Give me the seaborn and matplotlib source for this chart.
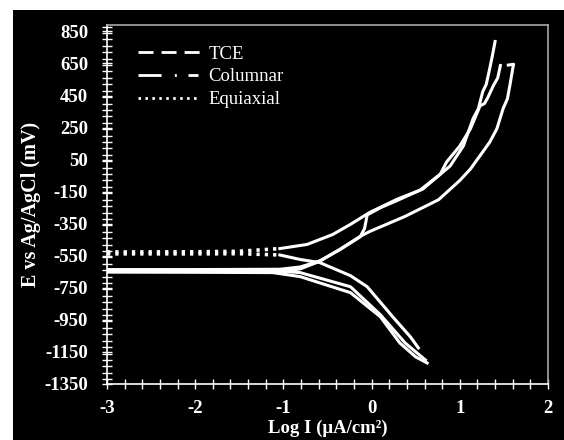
import matplotlib
matplotlib.use("Agg")
import matplotlib.pyplot as plt
import seaborn as sns
import pandas as pd
from matplotlib.lines import Line2D
from matplotlib.patches import Rectangle
from matplotlib.ticker import MultipleLocator

# ---------------- data ----------------
series = ["TCE", "Columnar", "Equiaxial"]

# cathodic branches (log I, E)
tce_cath_logi = [-3.0, -2.0, -1.12, -0.81, -0.24, 0.10, 0.38, 0.61]
tce_cath_e = [-640, -641, -643, -655, -743, -918, -1094, -1200]
col_cath_logi = [-3.0, -2.0, -1.12, -0.81, -0.24, 0.10, 0.32, 0.50, 0.63]
col_cath_e = [-652, -653, -655, -680, -780, -931, -1094, -1181, -1219]
equ_cath_logi = [-3.0, -2.0, -1.5, -1.04, -0.81, -0.59, -0.24, -0.05, 0.24, 0.44, 0.53]
equ_cath_e = [-538, -538, -537, -545, -573, -592, -674, -743, -931, -1056, -1125]

# anodic branches (log I, E)
tce_anod_logi = [-3.0, -2.0, -1.04, -0.81, -0.59, -0.36, -0.13, -0.08, -0.05, 0.10, 0.29,
                 0.55, 0.78, 0.85, 1.00, 1.12, 1.23, 1.28, 1.32, 1.38, 1.43, 1.46]
tce_anod_e = [-636, -636, -634, -620, -582, -512, -432, -380, -295, -250, -205,
              -140, -40, 35, 135, 242, 386, 400, 440, 511, 560, 637]
col_anod_logi = [-3.0, -2.0, -1.04, -0.81, -0.59, -0.36, -0.13, -0.02, 0.38, 0.76, 1.00,
                 1.12, 1.26, 1.34, 1.42, 1.49, 1.54, 1.57, 1.60, 1.61, 1.55]
col_anod_e = [-647, -648, -648, -632, -585, -510, -429, -398, -304, -200, -80,
              -9, 98, 160, 242, 367, 430, 520, 618, 645, 640]
equ_anod_logi = [-3.0, -2.0, -1.5, -1.04, -0.73, -0.44, -0.24, -0.02, 0.29, 0.58,
                 0.89, 1.04, 1.15, 1.21, 1.26, 1.30, 1.34, 1.37, 1.40]
equ_anod_e = [-526, -525, -522, -505, -479, -417, -354, -279, -197, -134,
              10, 135, 305, 367, 474, 520, 620, 700, 787]

x_ticks = [-3, -2, -1, 0, 1, 2]
y_ticks = [-1350, -1150, -950, -750, -550, -350, -150, 50, 250, 450, 650, 850]

# ---------------- figure ----------------
W, H = 564, 440
fig = plt.figure(figsize=(W / 100, H / 100), dpi=100, facecolor="black")
fig.patches.append(Rectangle((0, 1 - 10 / H), 1, 10 / H, transform=fig.transFigure,
                             facecolor="white", edgecolor="none", zorder=-1))
fig.patches.append(Rectangle((0, 0), 13 / W, 1, transform=fig.transFigure,
                             facecolor="white", edgecolor="none", zorder=-1))

ax = fig.add_axes([107 / W, 1 - 384 / H, (548 - 107) / W, (384 - 25) / H])
ax.set_facecolor("black")

serif = "Liberation Serif"
lw = 2.2

branches = {
    "TCE": [(tce_cath_logi, tce_cath_e), (tce_anod_logi, tce_anod_e)],
    "Columnar": [(col_cath_logi, col_cath_e), (col_anod_logi, col_anod_e)],
    "Equiaxial": [(equ_cath_logi, equ_cath_e), (equ_anod_logi, equ_anod_e)],
}

for name in series:
    for xs, ys in branches[name]:
        df = pd.DataFrame({"logI": xs, "E": ys})
        if name == "Equiaxial":
            flat = df[df["logI"] <= -1.04]
            rest = df[df["logI"] >= -1.04]
            sns.lineplot(data=flat, x="logI", y="E", sort=False, estimator=None,
                         color="white", lw=2.6, ax=ax)
            ax.lines[-1].set_dashes((0.9, 1.4))
            ax.lines[-1].set_dash_capstyle("butt")
            sns.lineplot(data=rest, x="logI", y="E", sort=False, estimator=None,
                         color="white", lw=lw, ax=ax)
        else:
            sns.lineplot(data=df, x="logI", y="E", sort=False, estimator=None,
                         color="white", lw=lw, ax=ax)

ax.set_xlim(-3, 2)
ax.set_ylim(-1350, 890)
ax.set_xticks(x_ticks)
ax.set_yticks(y_ticks)
ax.xaxis.set_minor_locator(MultipleLocator(0.2))
ax.yaxis.set_minor_locator(MultipleLocator(40))

tick_font = dict(family=serif, weight="bold", size=13.5)
ax.set_xticklabels([str(t) for t in x_ticks], **tick_font, color="white")
ax.set_yticklabels([str(t) for t in y_ticks], **tick_font, color="white")

ax.tick_params(axis="both", which="both", direction="inout", color="white", width=1.0)
ax.tick_params(axis="x", which="both", length=7, pad=8)
ax.tick_params(axis="y", which="both", length=7, pad=10)

for side in ["left", "bottom"]:
    ax.spines[side].set_color("white")
    ax.spines[side].set_linewidth(1.2)
for side in ["top", "right"]:
    ax.spines[side].set_color("#a8a8a8")
    ax.spines[side].set_linewidth(1.2)

ax.set_xlabel("Log I (μA/cm²)", family=serif, weight="bold", size=13.5, color="white")
ax.set_ylabel("E vs Ag/AgCl (mV)", family=serif, weight="bold", size=14.5, color="white")
ax.xaxis.set_label_coords(0.5, -0.0985)
ax.yaxis.set_label_coords(-0.15, 0.5)

handles = [
    Line2D([], [], color="white", lw=2.0, dashes=(5.4, 2.9), dash_capstyle="butt"),
    Line2D([], [], color="white", lw=2.0, dashes=(8.3, 4.8, 0.7, 4.2, 3.6, 5.0), dash_capstyle="butt"),
    Line2D([], [], color="white", lw=2.0, dashes=(0.9, 1.6), dash_capstyle="butt"),
]
leg = ax.legend(handles, series, loc="upper left", bbox_to_anchor=(0.07, 0.943),
                frameon=False, borderpad=0, borderaxespad=0, handlelength=3.3,
                handletextpad=0.45, labelspacing=0.3,
                prop=dict(family=serif, size=13.5))
for t in leg.get_texts():
    t.set_color("white")

fig.savefig("out.png", dpi=100, facecolor=fig.get_facecolor())
